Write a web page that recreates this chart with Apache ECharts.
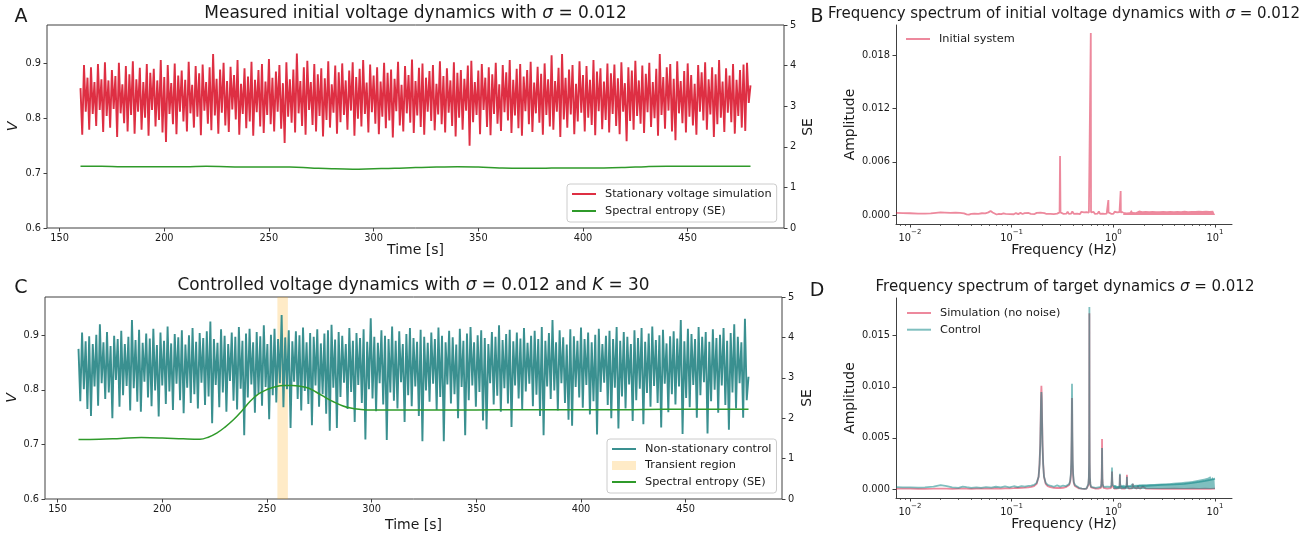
<!DOCTYPE html>
<html><head><meta charset="utf-8">
<script src="https://cdn.jsdelivr.net/npm/echarts@6/dist/echarts.min.js"></script>
<style>html,body{margin:0;padding:0;background:#fff}#c{width:1302px;height:539px}</style>
</head><body><div id="c"></div>
<script>
// ---------------- data ----------------
const timeStart = 160, timeEnd = 480;
const timeTicks = [150, 200, 250, 300, 350, 400, 450];
const vTicks = [0.6, 0.7, 0.8, 0.9];
const freqTicks = [0.01, 0.1, 1, 10];
const freqMinor = [0.008, 0.009, 0.02, 0.03, 0.04, 0.05, 0.06, 0.07, 0.08, 0.09, 0.2, 0.3, 0.4, 0.5, 0.6, 0.7, 0.8, 0.9, 2, 3, 4, 5, 6, 7, 8, 9];
const ampTicksB = [0, 0.006, 0.012, 0.018];
const ampTicksD = [0, 0.005, 0.010, 0.015];
const transient = [255, 260];

// Panel A: stationary voltage (V), uniformly sampled from 160 s to 480 s
const voltA = [
0.855,0.770,0.897,0.812,0.874,0.779,0.893,0.808,0.866,0.786,0.899,0.815,0.871,0.775,0.902,0.804,
0.869,0.783,0.888,0.817,0.877,0.766,0.901,0.809,0.862,0.791,0.895,0.776,0.880,0.806,0.904,0.772,
0.871,0.812,0.892,0.779,0.866,0.801,0.899,0.768,0.883,0.815,0.890,0.785,0.869,0.797,0.906,0.774,
0.875,0.757,0.897,0.808,0.864,0.789,0.900,0.771,0.878,0.812,0.887,0.794,0.870,0.776,0.903,0.809,
0.861,0.783,0.895,0.803,0.882,0.769,0.898,0.814,0.866,0.790,0.893,0.778,0.917,0.805,0.872,0.772,
0.889,0.810,0.901,0.787,0.868,0.775,0.894,0.816,0.879,0.798,0.906,0.770,0.863,0.808,0.891,0.782,
0.876,0.794,0.903,0.768,0.870,0.811,0.888,0.785,0.899,0.773,0.867,0.806,0.908,0.789,0.874,0.776,
0.885,0.812,0.897,0.781,0.864,0.755,0.902,0.803,0.871,0.792,0.889,0.774,0.918,0.809,0.868,0.786,
0.893,0.770,0.905,0.815,0.866,0.788,0.899,0.776,0.880,0.804,0.891,0.767,0.873,0.797,0.904,0.783,
0.862,0.810,0.896,0.772,0.884,0.793,0.900,0.806,0.869,0.779,0.887,0.814,0.902,0.768,0.875,0.799,
0.890,0.785,0.906,0.808,0.865,0.774,0.898,0.811,0.878,0.790,0.893,0.771,0.867,0.803,0.901,0.782,
0.883,0.796,0.889,0.765,0.872,0.813,0.903,0.787,0.861,0.776,0.895,0.809,0.879,0.792,0.907,0.773,
0.868,0.805,0.892,0.784,0.900,0.770,0.874,0.812,0.886,0.795,0.897,0.778,0.863,0.807,0.904,0.789,
0.877,0.774,0.891,0.810,0.869,0.786,0.902,0.767,0.883,0.801,0.888,0.779,0.872,0.814,0.896,0.750,
0.905,0.793,0.866,0.806,0.887,0.771,0.899,0.815,0.874,0.784,0.893,0.769,0.880,0.808,0.901,0.790,
0.862,0.777,0.897,0.811,0.884,0.796,0.906,0.773,0.870,0.805,0.890,0.782,0.899,0.768,0.876,0.813,
0.888,0.789,0.903,0.775,0.865,0.809,0.894,0.792,0.881,0.770,0.900,0.806,0.871,0.785,0.915,0.779,
0.868,0.812,0.892,0.766,0.917,0.798,0.874,0.783,0.889,0.807,0.897,0.771,0.863,0.794,0.904,0.810,
0.879,0.776,0.895,0.801,0.870,0.788,0.906,0.769,0.885,0.813,0.891,0.780,0.867,0.797,0.900,0.774,
0.882,0.808,0.898,0.786,0.873,0.771,0.902,0.812,0.864,0.758,0.893,0.795,0.887,0.779,0.905,0.804,
0.869,0.790,0.896,0.773,0.881,0.811,0.901,0.784,0.866,0.800,0.890,0.768,0.917,0.806,0.875,0.781,
0.893,0.814,0.899,0.776,0.872,0.760,0.904,0.809,0.868,0.791,0.886,0.774,0.900,0.803,0.879,0.787,
0.863,0.770,0.897,0.812,0.884,0.796,0.902,0.779,0.871,0.807,0.893,0.766,0.880,0.789,0.906,0.801,
0.867,0.775,0.891,0.810,0.878,0.793,0.899,0.772,0.870,0.804,0.888,0.783,0.898,0.777,0.901,0.828,
0.860
];

// Panel C: controlled voltage (V), uniformly sampled from 160 s to 480 s
const voltC = [
0.875,0.779,0.905,0.801,0.889,0.765,0.898,0.752,0.884,0.806,0.901,0.771,
0.920,0.812,0.887,0.783,0.906,0.795,0.880,0.748,0.899,0.818,0.893,0.769,
0.908,0.790,0.884,0.807,0.897,0.762,0.928,0.803,0.891,0.778,0.910,0.760,
0.886,0.815,0.903,0.786,0.894,0.770,0.912,0.799,0.882,0.751,0.905,0.808,
0.890,0.774,0.916,0.797,0.885,0.763,0.902,0.811,0.896,0.781,0.909,0.757,
0.883,0.804,0.900,0.776,0.913,0.792,0.888,0.766,0.904,0.813,0.895,0.772,
0.907,0.788,0.925,0.739,0.893,0.809,0.886,0.768,0.911,0.795,0.899,0.760,
0.884,0.816,0.905,0.780,0.897,0.764,0.915,0.802,0.890,0.717,0.903,0.786,
0.912,0.810,0.887,0.758,0.906,0.793,0.898,0.771,0.918,0.805,0.884,0.746,
0.901,0.790,0.912,0.777,0.893,0.812,0.937,0.768,0.896,0.801,0.909,0.730,
0.889,0.815,0.907,0.783,0.900,0.762,0.914,0.798,0.887,0.774,0.904,0.735,
0.897,0.808,0.911,0.769,0.885,0.792,0.903,0.756,0.909,0.725,0.919,0.804,
0.892,0.730,0.906,0.787,0.899,0.813,0.884,0.765,0.913,0.796,0.890,0.741,
0.904,0.809,0.895,0.776,0.911,0.709,0.888,0.801,0.931,0.784,0.897,0.761,
0.886,0.812,0.909,0.773,0.899,0.708,0.893,0.795,0.916,0.780,0.890,0.766,
0.907,0.814,0.884,0.741,0.902,0.790,0.913,0.770,0.895,0.806,0.888,0.752,
0.910,0.706,0.897,0.799,0.886,0.778,0.905,0.811,0.893,0.763,0.914,0.787,
0.899,0.706,0.887,0.810,0.908,0.775,0.896,0.792,0.883,0.748,0.912,0.805,
0.890,0.717,0.903,0.781,0.915,0.808,0.887,0.769,0.900,0.796,0.909,0.744,
0.895,0.728,0.884,0.812,0.906,0.773,0.897,0.789,0.918,0.760,0.891,0.803,
0.902,0.775,0.910,0.732,0.889,0.808,0.905,0.784,0.894,0.765,0.913,0.797,
0.886,0.811,0.899,0.770,0.908,0.791,0.893,0.752,0.915,0.717,0.890,0.806,
0.904,0.783,0.928,0.799,0.887,0.762,0.909,0.812,0.896,0.776,0.883,0.745,
0.911,0.734,0.898,0.805,0.890,0.786,0.914,0.767,0.893,0.809,0.905,0.755,
0.887,0.779,0.901,0.718,0.912,0.796,0.884,0.813,0.899,0.772,0.908,0.748,
0.893,0.804,0.915,0.729,0.890,0.788,0.906,0.766,0.897,0.810,0.884,0.743,
0.909,0.781,0.895,0.802,0.913,0.737,0.888,0.794,0.903,0.769,0.916,0.807,
0.891,0.776,0.900,0.731,0.910,0.811,0.885,0.759,0.898,0.792,0.907,0.773,
0.894,0.806,0.928,0.719,0.889,0.785,0.912,0.768,0.902,0.809,0.893,0.749,
0.915,0.790,0.897,0.814,0.906,0.720,0.888,0.779,0.911,0.800,0.895,0.758,
0.901,0.808,0.913,0.772,0.890,0.727,0.904,0.795,0.920,0.766,0.897,0.812,
0.887,0.749,0.930,0.781,0.824
];

// Spectral entropy
const seATime = [160,170,180,190,200,210,220,230,240,250,260,270,280,290,300,310,320,330,340,350,360,370,380,390,400,410,420,430,440,450,460,470,480];
const seA     = [1.52,1.52,1.51,1.51,1.51,1.51,1.52,1.51,1.50,1.50,1.50,1.48,1.46,1.45,1.46,1.47,1.49,1.50,1.51,1.50,1.48,1.47,1.47,1.48,1.48,1.48,1.49,1.51,1.52,1.52,1.52,1.52,1.52];
const seCTime = [160,170,180,190,200,210,218,222,226,230,234,238,242,246,250,254,258,262,266,270,274,278,282,286,290,294,300,320,340,360,380,400,420,440,460,480];
const seC     = [1.475,1.48,1.50,1.52,1.51,1.49,1.48,1.53,1.63,1.78,1.96,2.18,2.42,2.60,2.71,2.78,2.81,2.81,2.79,2.74,2.63,2.51,2.40,2.31,2.25,2.22,2.20,2.20,2.20,2.21,2.21,2.21,2.21,2.22,2.22,2.22];

// Panel B: spectrum of initial system
const bFreq = [
0.0073,0.0085,0.01,0.012,0.014,0.016,0.018,0.02,0.022,0.025,
0.028,0.031,0.034,0.036,0.038,0.04,0.043,0.047,0.051,0.055,
0.059,0.062,0.065,0.068,0.071,0.075,0.079,0.083,0.087,0.091,
0.096,0.1,0.105,0.11,0.116,0.122,0.128,0.134,0.14,0.147,
0.154,0.161,0.168,0.176,0.184,0.192,0.2,0.21,0.22,0.23,
0.24,0.25,0.26,0.27,0.28,0.29,0.296,0.299,0.302,0.306,
0.315,0.325,0.335,0.345,0.355,0.365,0.375,0.385,0.395,0.41,
0.425,0.44,0.455,0.47,0.485,0.5,0.515,0.53,0.545,0.56,
0.575,0.59,0.597,0.6,0.603,0.61,0.625,0.64,0.66,0.68,
0.7,0.72,0.74,0.76,0.78,0.8,0.82,0.84,0.86,0.88,
0.889,0.893,0.897,0.91,0.93,0.95,0.97,1.0,1.03,1.06,
1.09,1.12,1.15,1.175,1.18,1.185,1.21,1.25];
const bAmp = [
0.00025,0.00022,0.0002,0.00016,0.00015,0.00018,0.00025,0.0003,0.00028,0.00024,
0.00027,0.00024,0.00019,0.00008,0.00004,0.00012,0.00016,0.00014,0.0002,0.00018,
0.0003,0.00045,0.00028,0.0001,0.00006,0.00014,0.0001,0.00018,0.00012,0.0002,
0.00011,0.00019,0.00009,0.00022,0.0001,0.00024,0.00012,0.00021,0.00008,0.00023,
0.00013,0.00026,0.00011,0.00024,0.00014,0.00027,0.0001,0.00022,0.00012,0.00028,
0.00014,0.00025,0.00011,0.00027,0.00016,0.0002,0.0003,0.00664,0.0003,0.00018,
0.00045,0.00012,0.00028,0.00015,0.00038,0.00013,0.00031,0.00017,0.0004,0.00012,
0.00033,0.00016,0.00029,0.00011,0.00036,0.00014,0.0003,0.00012,0.00034,0.00015,
0.00028,0.00035,0.0003,0.0205,0.0003,0.0003,0.00014,0.00035,0.00012,0.0003,
0.00016,0.00042,0.00013,0.00031,0.00017,0.00038,0.00012,0.00033,0.00015,0.0003,
0.0003,0.00169,0.0003,0.00012,0.00036,0.00014,0.00032,0.00013,0.00037,0.00015,
0.00031,0.00012,0.00034,0.0003,0.0027,0.0003,0.00014,0.00033];
const bBandFreq = [1.25,1.3,1.35,1.4,1.45,1.5,1.55,1.6,1.66,1.72,1.8,1.86,1.93,2.0,2.08,2.16,2.25,2.34,2.43,2.53,2.63,2.74,2.85,2.97,3.09,3.22,3.35,3.49,3.63,3.78,3.94,4.1,4.27,4.45,4.63,4.82,5.02,5.23,5.44,5.67,5.9,6.14,6.4,6.66,6.93,7.22,7.52,7.83,8.15,8.49,8.84,9.2,9.58,10.0];
const bBandAmp  = [0.00033,0.0004,0.00028,0.00042,0.0003,0.00058,0.00034,0.00045,0.00031,0.00043,0.00052,0.00033,0.00044,0.0003,0.00046,0.00032,0.00043,0.00029,0.00045,0.00033,0.00042,0.0003,0.00044,0.00032,0.00046,0.00031,0.00043,0.00034,0.00045,0.0003,0.00044,0.00033,0.00046,0.00032,0.00043,0.00034,0.00047,0.00031,0.00044,0.00035,0.00046,0.00032,0.00045,0.00034,0.00048,0.00033,0.00046,0.00035,0.00047,0.00032,0.00045,0.00036,0.00047,0.00035];

// Panel D: spectra of target (simulation, no noise) and control
const dFreq = [
0.0073,0.0085,0.01,0.012,0.014,0.017,0.02,0.023,0.026,0.03,0.033,0.036,0.04,0.045,0.05,0.056,0.063,0.07,0.078,0.086,0.095,0.105,0.115,0.125,0.135,
0.146,0.156,0.166,0.176,0.184,0.188,0.191,0.193,0.1945,0.196,0.1975,0.199,0.201,0.204,0.208,0.216,0.226,
0.24,0.26,0.28,0.3,0.32,0.34,0.355,
0.368,0.376,0.382,0.386,0.389,0.3905,0.392,0.3935,0.395,0.398,0.402,0.408,0.418,
0.435,0.46,0.49,0.52,0.545,0.56,
0.568,0.574,0.577,0.579,0.5802,0.581,0.5818,0.583,0.585,0.588,0.594,0.605,
0.63,0.67,0.71,0.74,0.755,
0.762,0.768,0.771,0.774,0.777,0.78,0.786,0.8,
0.83,0.87,0.91,0.945,
0.958,0.965,0.97,0.975,0.982,
1.02,1.07,1.11,1.14,
1.152,1.156,1.16,1.164,1.168,
1.2,1.25,1.3,1.335,
1.352,1.356,1.36,1.364,1.368,
1.42,1.48,1.53,
1.55,1.555,1.56,
1.62,1.7,
1.745,1.75,1.755,
1.85,1.93,
1.945,1.95,1.955,
2.1,3,4,5,6,7,8,9,10];
const dSim = [
0.00004,0.00003,0.00003,0.00002,0.00002,0.00003,0.00004,0.00003,0.00002,0.00003,0.00004,0.00003,0.00002,0.00003,0.00004,0.00003,0.00004,0.00005,0.00004,0.00006,0.00007,0.00008,0.0001,0.00011,0.00013,
0.00016,0.0002,0.00028,0.0005,0.0012,0.0025,0.0045,0.007,0.0092,0.0101,0.0092,0.007,0.0045,0.0025,0.0012,0.0005,0.00028,
0.00018,0.00012,0.0001,0.0001,0.00012,0.00018,0.00028,
0.0004,0.0007,0.0013,0.0025,0.0048,0.0072,0.0089,0.0072,0.0048,0.0025,0.0013,0.0006,0.0003,
0.00015,0.00006,0.00003,0.00002,0.00004,0.0001,
0.0004,0.001,0.0024,0.0055,0.0118,0.0172,0.0118,0.0055,0.0024,0.0011,0.0004,0.00015,
0.00006,0.00003,0.00003,0.00006,0.00012,
0.0004,0.0011,0.0024,0.0049,0.0024,0.0011,0.0004,0.00012,
0.00004,0.00003,0.00004,0.00008,
0.0003,0.0008,0.0017,0.0008,0.0003,
0.00004,0.00003,0.00004,0.00008,
0.0003,0.0007,0.0014,0.0007,0.0003,
0.00004,0.00003,0.00003,0.00007,
0.0003,0.0007,0.0014,0.0007,0.0003,
0.00004,0.00003,0.00006,
0.0002,0.0005,0.0002,
0.00003,0.00004,
0.0001,0.0003,0.0001,
0.00003,0.00004,
0.0001,0.00025,0.0001,
0.00003,0.00002,0.00003,0.00002,0.00003,0.00002,0.00003,0.00002,0.00003];
const dCtrl = [
0.00018,0.00016,0.00015,0.00013,0.00016,0.00024,0.00038,0.00028,0.00016,0.00012,0.00024,0.00018,0.00011,0.00016,0.00012,0.00019,0.00014,0.00022,0.00015,0.00025,0.00016,0.00027,0.00019,0.00029,0.00024,
0.0003,0.00033,0.0004,0.0006,0.0012,0.0024,0.0043,0.0066,0.0087,0.0095,0.0087,0.0066,0.0043,0.0024,0.0012,0.0006,0.0004,
0.00032,0.00022,0.00035,0.00024,0.00033,0.00027,0.0004,
0.0005,0.0008,0.0015,0.0029,0.0056,0.0084,0.0103,0.0084,0.0056,0.0029,0.0015,0.0007,0.0004,
0.00025,0.00012,0.00004,0.00002,0.00005,0.00012,
0.0005,0.0011,0.0026,0.0058,0.0122,0.0178,0.0122,0.0058,0.0026,0.0012,0.0005,0.0002,
0.00018,0.00012,0.00016,0.00013,0.0002,
0.0005,0.001,0.002,0.004,0.002,0.001,0.0005,0.0002,
0.00016,0.00022,0.00014,0.0002,
0.0004,0.001,0.0021,0.001,0.0004,
0.00022,0.00015,0.00025,0.0002,
0.0004,0.0008,0.0015,0.0008,0.0004,
0.00024,0.00018,0.00026,0.00021,
0.0003,0.0006,0.0012,0.0006,0.0003,
0.00025,0.00028,0.0003,
0.0003,0.0005,0.0003,
0.0003,0.00033,
0.0003,0.0004,0.0003,
0.0003,0.00034,
0.00032,0.00036,0.00032,
0.0003,0.0004,0.00045,0.0005,0.0006,0.0007,0.0008,0.0009,0.001];
const dBandFreq = [1.0,1.05,1.1,1.15,1.2,1.26,1.32,1.38,1.44,1.5,1.57,1.64,1.71,1.79,1.87,1.95,2.04,2.13,2.22,2.32,2.42,2.53,2.64,2.76,2.88,3.01,3.14,3.28,3.43,3.58,3.74,3.9,4.07,4.25,4.44,4.64,4.84,5.06,5.28,5.51,5.76,6.01,6.28,6.56,6.85,7.15,7.47,7.8,8.14,8.5,8.88,9.0,9.27,9.5,9.68,9.85,10.0];
const dBandAmp  = [0.0003,0.00038,0.00028,0.0004,0.0003,0.00042,0.00031,0.00041,0.00032,0.00043,0.00033,0.00044,0.00034,0.00045,0.00035,0.00046,0.00036,0.00047,0.00036,0.00048,0.00037,0.0005,0.00039,0.00051,0.0004,0.00053,0.00042,0.00055,0.00044,0.00057,0.00046,0.0006,0.00048,0.00063,0.0005,0.00066,0.00053,0.0007,0.00056,0.00074,0.0006,0.00079,0.00064,0.00085,0.00069,0.00092,0.00075,0.001,0.00082,0.0011,0.00092,0.00126,0.00098,0.00121,0.00095,0.00118,0.00104];

// axis limits
const timeLim = [144, 496];
const vLim = [0.6, 0.97];
const seLim = [0, 5];
const freqLim = [0.00728, 14.69];
const ampLimB = [-0.00101, 0.02141];
const ampLimD = [-0.00088, 0.01869];

// ---------------- styles ----------------
const FONT = 'DejaVu Sans';
const INK = '#1a1a1a';
const SPINE = '#404040';
const RED = '#de2f43';
const TEAL = '#3a9090';
const GREEN = '#2f9a2a';
const PINK = 'rgba(220,20,60,0.5)';
const CYAN = 'rgba(0,128,128,0.5)';
const BANDC = 'rgba(255,170,20,0.24)';
const TICK_FS = 9.8;

const pairs = (xs, ys) => xs.map((x, i) => [x, ys[i]]);
const sampled = (vals) => vals.map((v, i) => [timeStart + i * (timeEnd - timeStart) / (vals.length - 1), v]);

const tickStyle = {lineStyle: {color: SPINE, width: 1}};
function timeAxis(g) {
  return {type: 'value', gridIndex: g, min: timeLim[0], max: timeLim[1], position: 'bottom',
    axisLine: {show: false, onZero: false},
    axisTick: {show: true, customValues: timeTicks, length: 3.5, ...tickStyle},
    axisLabel: {customValues: timeTicks, fontFamily: FONT, fontSize: TICK_FS, color: INK, margin: 5},
    splitLine: {show: false}};
}
function vAxis(g) {
  return {type: 'value', gridIndex: g, min: vLim[0], max: vLim[1], position: 'left',
    axisLine: {show: false, onZero: false},
    axisTick: {show: true, customValues: vTicks, length: 3.5, ...tickStyle},
    axisLabel: {customValues: vTicks, formatter: v => v.toFixed(1), fontFamily: FONT, fontSize: TICK_FS, color: INK, margin: 6},
    splitLine: {show: false}};
}
function seAxis(g) {
  return {type: 'value', gridIndex: g, min: seLim[0], max: seLim[1], interval: 1, position: 'right',
    axisLine: {show: false, onZero: false},
    axisTick: {show: true, length: 3.5, ...tickStyle},
    axisLabel: {fontFamily: FONT, fontSize: TICK_FS, color: INK, margin: 6},
    splitLine: {show: false}};
}
function freqAxis(g) {
  return {type: 'log', logBase: 10, gridIndex: g, min: freqLim[0], max: freqLim[1], position: 'bottom',
    axisLine: {show: true, onZero: false, lineStyle: {color: SPINE, width: 1}},
    axisTick: {show: true, customValues: freqTicks, length: 3.5, ...tickStyle},
    axisLabel: {customValues: freqTicks, margin: 5,
      formatter: v => { const e = Math.round(Math.log10(v)); return '{b|10}{s|' + (e < 0 ? '\u2212' : '') + Math.abs(e) + '}'; },
      rich: {b: {fontFamily: FONT, fontSize: TICK_FS, color: INK, lineHeight: 14, verticalAlign: 'bottom'},
             s: {fontFamily: FONT, fontSize: 7, color: INK, lineHeight: 8, verticalAlign: 'top'}}},
    splitLine: {show: false}, minorTick: {show: false}};
}
function freqMinorAxis(g) {
  return {type: 'log', logBase: 10, gridIndex: g, min: freqLim[0], max: freqLim[1], position: 'bottom',
    axisLine: {show: false, onZero: false},
    axisTick: {show: true, customValues: freqMinor, length: 2, lineStyle: {color: SPINE, width: 0.8}},
    axisLabel: {show: false}, splitLine: {show: false}};
}
function ampAxis(g, lim, ticks) {
  return {type: 'value', gridIndex: g, min: lim[0], max: lim[1], position: 'left',
    axisLine: {show: true, onZero: false, lineStyle: {color: SPINE, width: 1}},
    axisTick: {show: true, customValues: ticks, length: 3.5, ...tickStyle},
    axisLabel: {customValues: ticks, formatter: v => v.toFixed(3), fontFamily: FONT, fontSize: TICK_FS, color: INK, margin: 6},
    splitLine: {show: false}};
}
function legendBase(extra) {
  return Object.assign({orient: 'vertical', itemWidth: 24, itemHeight: 9, selectedMode: false,
    textStyle: {fontFamily: FONT, fontSize: 11.3, color: INK, lineHeight: 14, padding: [0, 0, 0, 4]}}, extra);
}
// legend entry for a line: hide the marker symbol, keep the line handle
const lineItem = (name) => ({name: name, itemStyle: {opacity: 0}});
function txt(x, y, text, size, rot, italic) {
  const st = {text: text, fontFamily: FONT, fontSize: size, fontStyle: italic ? 'italic' : 'normal', fill: INK,
    align: 'center', verticalAlign: 'middle', textAlign: 'center', textVerticalAlign: 'middle',
    rich: {i: {fontFamily: FONT, fontSize: size, fontStyle: 'italic', fill: INK}}};
  return {type: 'text', x: x, y: y, rotation: rot || 0, z: 100, silent: true, style: st};
}
const lineCommon = {type: 'line', symbol: 'none', showSymbol: false, animation: false};

const option = {
  animation: false,
  backgroundColor: '#ffffff',
  grid: [
    {left: 47, top: 25, width: 737, height: 203, show: true, borderColor: SPINE, borderWidth: 1, backgroundColor: 'transparent'},
    {left: 896, top: 25, width: 336, height: 199},
    {left: 45, top: 297, width: 737, height: 202, show: true, borderColor: SPINE, borderWidth: 1, backgroundColor: 'transparent'},
    {left: 896, top: 298, width: 336, height: 200}
  ],
  xAxis: [timeAxis(0), freqAxis(1), freqMinorAxis(1), timeAxis(2), freqAxis(3), freqMinorAxis(3)],
  yAxis: [vAxis(0), seAxis(0), ampAxis(1, ampLimB, ampTicksB), vAxis(2), seAxis(2), ampAxis(3, ampLimD, ampTicksD)],
  legend: [
    legendBase({left: 567, top: 184, padding: [3, 5, 4, 4], itemGap: 3, backgroundColor: 'rgba(255,255,255,0.8)', borderColor: '#cccccc', borderWidth: 1, borderRadius: 3,
      data: [lineItem('Stationary voltage simulation'), lineItem('Spectral entropy (SE)')]}),
    legendBase({left: 905, top: 32, padding: 0, itemGap: 3, data: [lineItem('Initial system')]}),
    legendBase({left: 607, top: 439, padding: [3, 5, 4, 4], itemGap: 2.5, backgroundColor: 'rgba(255,255,255,0.8)', borderColor: '#cccccc', borderWidth: 1, borderRadius: 3,
      data: [lineItem('Non-stationary control'), {name: 'Transient region', icon: 'rect', itemStyle: {color: BANDC, opacity: 1}}, lineItem('Spectral entropy (SE)')]}),
    legendBase({left: 906, top: 306, padding: 0, itemGap: 2.7, data: [lineItem('Simulation (no noise)'), lineItem('Control')]})
  ],
  series: [
    // A
    {...lineCommon, name: 'Stationary voltage simulation', xAxisIndex: 0, yAxisIndex: 0, data: sampled(voltA),
      lineStyle: {color: RED, width: 1.9}, itemStyle: {color: RED}, z: 2},
    {...lineCommon, name: 'Spectral entropy (SE)', xAxisIndex: 0, yAxisIndex: 1, data: pairs(seATime, seA), smooth: 0.4,
      lineStyle: {color: GREEN, width: 1.5}, itemStyle: {color: GREEN}, z: 3},
    // B
    {...lineCommon, name: 'Initial system', xAxisIndex: 1, yAxisIndex: 2, data: pairs(bFreq, bAmp),
      lineStyle: {color: PINK, width: 1.8}, itemStyle: {color: PINK}, z: 2},
    {...lineCommon, name: 'B noise floor', xAxisIndex: 1, yAxisIndex: 2, data: pairs(bBandFreq, bBandAmp),
      lineStyle: {width: 0}, areaStyle: {color: PINK, opacity: 1}, itemStyle: {color: PINK}, z: 2},
    // C
    {type: 'custom', name: 'Transient region', xAxisIndex: 3, yAxisIndex: 3, data: [transient], encode: {x: [0, 1]},
      itemStyle: {color: BANDC}, z: 1, silent: true,
      renderItem: (params, api) => {
        const cs = params.coordSys;
        const a = api.coord([api.value(0), 0.8]);
        const b = api.coord([api.value(1), 0.8]);
        return {type: 'rect', shape: {x: a[0], y: cs.y, width: b[0] - a[0], height: cs.height}, style: {fill: BANDC}};
      }},
    {...lineCommon, name: 'Non-stationary control', xAxisIndex: 3, yAxisIndex: 3, data: sampled(voltC),
      lineStyle: {color: TEAL, width: 1.9}, itemStyle: {color: TEAL}, z: 2},
    {...lineCommon, name: 'Spectral entropy (SE)', xAxisIndex: 3, yAxisIndex: 4, data: pairs(seCTime, seC), smooth: 0.4,
      lineStyle: {color: GREEN, width: 1.5}, itemStyle: {color: GREEN}, z: 3},
    // D
    {...lineCommon, name: 'Simulation (no noise)', xAxisIndex: 4, yAxisIndex: 5, data: pairs(dFreq, dSim),
      lineStyle: {color: PINK, width: 1.8}, itemStyle: {color: PINK}, z: 2},
    {...lineCommon, name: 'Control', xAxisIndex: 4, yAxisIndex: 5, data: pairs(dFreq, dCtrl),
      lineStyle: {color: CYAN, width: 1.8}, itemStyle: {color: CYAN}, z: 3},
    {...lineCommon, name: 'D noise floor', xAxisIndex: 4, yAxisIndex: 5, data: pairs(dBandFreq, dBandAmp),
      lineStyle: {width: 0}, areaStyle: {color: CYAN, opacity: 1}, itemStyle: {color: CYAN}, z: 3}
  ],
  graphic: [
    txt(21, 17, 'A', 19), txt(817, 17, 'B', 19), txt(21, 288, 'C', 19), txt(817, 291, 'D', 19),
    txt(415.5, 14, 'Measured initial voltage dynamics with {i|\u03c3} = 0.012', 17),
    txt(1064, 14, 'Frequency spectrum of initial voltage dynamics with {i|\u03c3} = 0.012', 15),
    txt(413.5, 286, 'Controlled voltage dynamics with {i|\u03c3} = 0.012 and {i|K} = 30', 16.9),
    txt(1065, 287.5, 'Frequency spectrum of target dynamics {i|\u03c3} = 0.012', 15),
    txt(13, 126.5, 'V', 14, Math.PI / 2, true),
    txt(808, 127, 'SE', 14, Math.PI / 2),
    txt(415.5, 250, 'Time [s]', 14),
    txt(850, 124.5, 'Amplitude', 14, Math.PI / 2),
    txt(1064, 250, 'Frequency (Hz)', 14),
    txt(12, 398, 'V', 14, Math.PI / 2, true),
    txt(807, 398, 'SE', 14, Math.PI / 2),
    txt(413.5, 525, 'Time [s]', 14),
    txt(850, 398, 'Amplitude', 14, Math.PI / 2),
    txt(1064, 524, 'Frequency (Hz)', 14)
  ]
};
const chart = echarts.init(document.getElementById('c'), null, {renderer: 'canvas', width: 1302, height: 539});
chart.setOption(option);
</script></body></html>
